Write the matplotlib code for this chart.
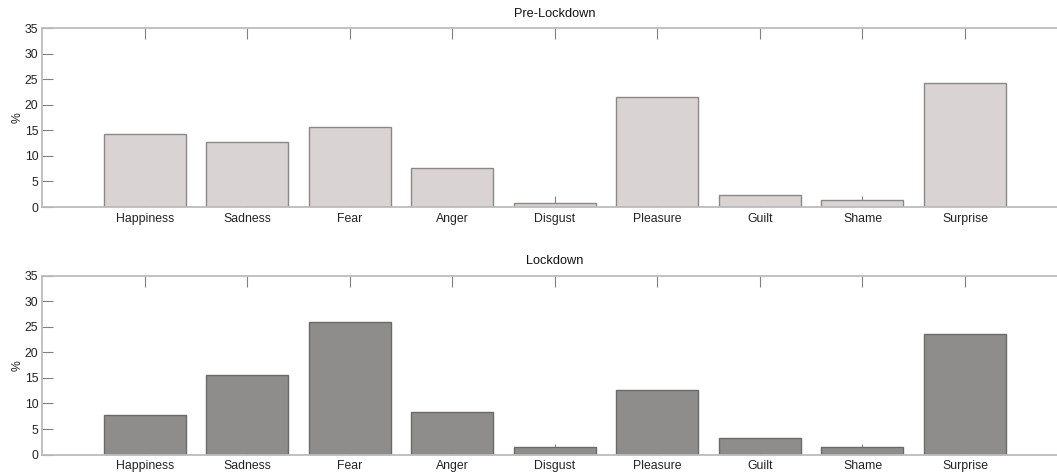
import matplotlib

matplotlib.use("Agg")
import matplotlib.pyplot as plt

plt.rcParams["font.family"] = ["Liberation Sans", "DejaVu Sans"]

# ── Data ──
emotions = ["Happiness", "Sadness", "Fear", "Anger", "Disgust",
            "Pleasure", "Guilt", "Shame", "Surprise"]
pre_lockdown = [14.3, 12.8, 15.7, 7.6, 0.8, 21.6, 2.3, 1.3, 24.2]
lockdown = [7.8, 15.6, 26.0, 8.4, 1.5, 12.6, 3.2, 1.5, 23.5]

panels = [
    ("Pre-Lockdown", pre_lockdown, "#d9d3d3", "#8c8888", 0.565),
    ("Lockdown", lockdown, "#8e8d8b", "#6a6a6a", 0.045),
]

fig = plt.figure(figsize=(10.57, 4.76), dpi=100)
x = list(range(1, len(emotions) + 1))

for title, values, face, edge, bottom in panels:
    # axes runs a bit past the right edge, as in the cropped original
    ax = fig.add_axes([0.0402, bottom, 0.9697, 0.376])
    ax.bar(x, values, width=0.8, color=face, edgecolor=edge, linewidth=1.0)
    ax.set_xlim(0, 10)
    ax.set_ylim(0, 35)
    ax.set_yticks(range(0, 36, 5))
    ax.set_xticks(x)
    ax.set_xticklabels(emotions)
    ax.set_axisbelow(True)
    ax.tick_params(axis="both", direction="in", length=8, width=0.8,
                   color="#808080", labelsize=8.8, labelcolor="#222222",
                   pad=3, top=True)
    ax.tick_params(axis="x", pad=4)
    for side in ["left", "top", "bottom"]:
        ax.spines[side].set_color("#bcbcbc")
        ax.spines[side].set_linewidth(1.3)
    ax.spines["right"].set_visible(False)
    ax.set_ylabel("%", fontsize=8.8, color="#222222", labelpad=1)
    ax.set_title(title, fontsize=9.2, color="#111111", pad=8)

fig.savefig("out.png", dpi=100)
